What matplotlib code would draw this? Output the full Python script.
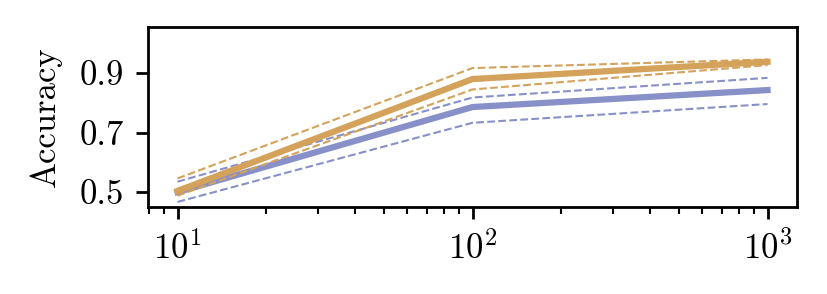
import matplotlib
matplotlib.use('Agg')
import matplotlib.pyplot as plt

plt.rcParams['font.family'] = 'serif'
plt.rcParams['font.serif'] = ['cmr10']
plt.rcParams['mathtext.fontset'] = 'cm'
plt.rcParams['axes.formatter.use_mathtext'] = True
plt.rcParams['font.size'] = 10

# data
n_samples = [10, 100, 1000]
blue_mean = [0.500, 0.786, 0.843]
blue_upper = [0.535, 0.818, 0.884]
blue_lower = [0.467, 0.733, 0.796]
orange_mean = [0.504, 0.880, 0.938]
orange_upper = [0.546, 0.917, 0.946]
orange_lower = [0.488, 0.845, 0.927]

blue = '#8790c8'
orange = '#d4a25a'

fig = plt.figure(figsize=(827 / 250, 294 / 250), dpi=250)
ax = fig.add_axes([148 / 827, 1 - 207 / 294, 649 / 827, 180 / 294])

# blue series
ax.plot(n_samples, blue_mean, color=blue, lw=1.8)
ax.plot(n_samples, blue_upper, color=blue, lw=0.6, ls='--')
ax.plot(n_samples, blue_lower, color=blue, lw=0.6, ls='--')
# orange series
ax.plot(n_samples, orange_mean, color=orange, lw=1.8)
ax.plot(n_samples, orange_upper, color=orange, lw=0.6, ls='--')
ax.plot(n_samples, orange_lower, color=orange, lw=0.6, ls='--')

ax.set_xscale('log')
ax.set_ylim(0.45, 1.055)
ax.set_yticks([0.5, 0.7, 0.9])
ax.set_yticklabels(['0.5', '0.7', '0.9'])
ax.set_ylabel('Accuracy', labelpad=5)

fig.savefig('out.png', dpi=250)
